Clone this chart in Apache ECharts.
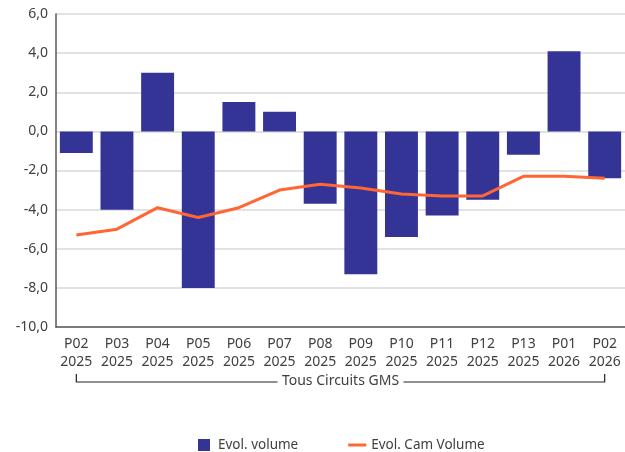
<!DOCTYPE html>
<html>
<head>
<meta charset="utf-8">
<script src="https://cdn.jsdelivr.net/npm/echarts@6/dist/echarts.min.js"></script>
<style>
  html, body { margin: 0; padding: 0; background: #fff; }
  #chart { width: 625px; height: 452px; }
</style>
</head>
<body>
<div id="chart"></div>
<script>
// periods shown on the x axis
const periods = ['P02', 'P03', 'P04', 'P05', 'P06', 'P07', 'P08', 'P09', 'P10', 'P11', 'P12', 'P13', 'P01', 'P02'];
const years = ['2025', '2025', '2025', '2025', '2025', '2025', '2025', '2025', '2025', '2025', '2025', '2025', '2026', '2026'];
const evolVolume = [-1.1, -4.0, 3.0, -8.0, 1.5, 1.0, -3.7, -7.3, -5.4, -4.3, -3.5, -1.2, 4.1, -2.4];
const evolCamVolume = [-5.3, -5.0, -3.9, -4.4, -3.9, -3.0, -2.7, -2.9, -3.2, -3.3, -3.3, -2.3, -2.3, -2.4];
const groupLabel = 'Tous Circuits GMS';

const categories = periods.map((p, i) => p + '\n' + years[i]);
const font = '"Noto Sans", sans-serif';
const txt = '#404040';

const chart = echarts.init(document.getElementById('chart'), null, { renderer: 'canvas' });

chart.setOption({
  animation: false,
  textStyle: { fontFamily: font },
  grid: { left: 56, top: 14, width: 572, height: 313, containLabel: false },
  legend: {
    left: 193,
    top: 433,
    itemWidth: 18,
    itemHeight: 12,
    itemGap: 50,
    textStyle: { fontSize: 13.5, color: txt, fontFamily: font },
    data: [
      { name: 'Evol. volume', icon: 'path://M0,0h12v12h-12z' },
      { name: 'Evol. Cam Volume', icon: 'path://M0,0h18v3h-18z' }
    ]
  },
  xAxis: {
    type: 'category',
    data: categories,
    axisLine: { onZero: false, lineStyle: { color: '#595959', width: 1.5 } },
    axisTick: { show: false },
    axisLabel: { color: txt, fontSize: 14, lineHeight: 18, margin: 8, interval: 0 }
  },
  yAxis: {
    type: 'value',
    min: -10,
    max: 6,
    interval: 2,
    axisLine: { show: true, lineStyle: { color: '#595959', width: 1.5 } },
    axisTick: { show: false },
    splitLine: { lineStyle: { color: '#d9d9d9', width: 1.5 } },
    axisLabel: {
      color: txt, fontSize: 14, margin: 8,
      formatter: v => v.toFixed(1).replace('.', ',')
    }
  },
  series: [
    {
      name: 'Evol. volume',
      type: 'bar',
      data: evolVolume,
      barCategoryGap: '19%',
      itemStyle: { color: '#343496' }
    },
    {
      name: 'Evol. Cam Volume',
      type: 'line',
      data: evolCamVolume,
      symbol: 'none',
      lineStyle: { color: '#ff6633', width: 3 },
      itemStyle: { color: '#ff6633' }
    }
  ]
});

// group bracket under the axis labels
const x0 = chart.convertToPixel({ xAxisIndex: 0 }, 0);
const x1 = chart.convertToPixel({ xAxisIndex: 0 }, categories.length - 1);
const yb = 382, yt = 374;
const mid = (x0 + x1) / 2;
const halfText = 63;
chart.setOption({
  graphic: [
    {
      type: 'polyline', silent: true,
      shape: { points: [[x0, yt], [x0, yb], [mid - halfText, yb]] },
      style: { stroke: '#222', lineWidth: 1.2, fill: null }
    },
    {
      type: 'polyline', silent: true,
      shape: { points: [[mid + halfText, yb], [x1, yb], [x1, yt]] },
      style: { stroke: '#222', lineWidth: 1.2, fill: null }
    },
    {
      type: 'text', silent: true,
      x: mid, y: yb - 1,
      style: {
        text: groupLabel, fill: txt, font: '14px ' + font,
        align: 'center', verticalAlign: 'middle'
      }
    }
  ]
});
</script>
</body>
</html>
